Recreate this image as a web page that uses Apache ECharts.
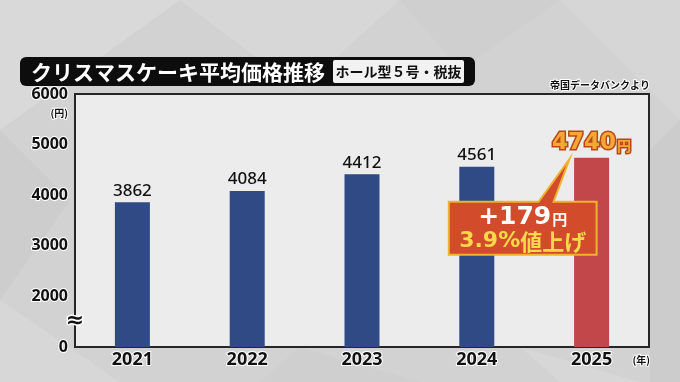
<!DOCTYPE html>
<html>
<head>
<meta charset="utf-8">
<script src="https://cdn.jsdelivr.net/npm/echarts@6/dist/echarts.min.js"></script>
<style>
html,body{margin:0;padding:0;background:#d2d2d2;}
#c{width:680px;height:382px;}
</style>
</head>
<body>
<div id="c"></div>
<script>
// ---- data ----
const years = ['2021', '2022', '2023', '2024', '2025'];
const prices = [3862, 4084, 4412, 4561, 4740];
const yMin = 1000;   // shown as "0" (broken axis)
const yMax = 6000;
const yStep = 1000;

const titleText = 'クリスマスケーキ平均価格推移';
const subTitleText = 'ホール型５号・税抜';
const sourceText = '帝国データバンクより';

const JP = '"Noto Sans CJK JP", "Noto Sans", sans-serif';
const NUM = '"DejaVu Sans", sans-serif';

const chart = echarts.init(document.getElementById('c'), null, {renderer: 'canvas'});

const last = prices.length - 1;
const diff = prices[last] - prices[last - 1];
const pct = (diff / prices[last - 1] * 100).toFixed(1);

const seriesData = prices.map((v, i) => {
  if (i === last) {
    return {
      value: v,
      itemStyle: {color: '#c1474a'},
      label: {
        show: true, position: 'top', distance: 3,
        formatter: '{n|' + v + '}{u|円}',
        rich: {
          n: {fontFamily: NUM, fontWeight: 'bold', fontSize: 23, color: '#f5a733',
              textBorderColor: '#b8471c', textBorderWidth: 3},
          u: {fontFamily: JP, fontWeight: 'bold', fontSize: 14, color: '#f5a733',
              textBorderColor: '#b8471c', textBorderWidth: 3, padding: [4, 0, 0, 1]}
        }
      }
    };
  }
  return {value: v};
});

// background low-poly decoration
const bgPolys = [
  {pts: [[0,0],[180,0],[0,130]], c: '#d9d9d9'},
  {pts: [[180,0],[400,0],[300,90]], c: '#d7d7d7'},
  {pts: [[400,0],[560,0],[460,70]], c: '#cfcfcf'},
  {pts: [[560,0],[680,0],[680,120]], c: '#d6d6d6'},
  {pts: [[0,130],[70,200],[0,300]], c: '#cdcdcd'},
  {pts: [[650,150],[680,120],[680,382],[650,382]], c: '#cccccc'},
  {pts: [[0,300],[120,382],[0,382]], c: '#d7d7d7'},
  {pts: [[300,347],[420,382],[260,382]], c: '#cfcfcf'},
  {pts: [[520,347],[640,382],[560,382]], c: '#d7d7d7'}
];

const option = {
  backgroundColor: '#d2d2d2',
  animation: false,
  textStyle: {fontFamily: JP},
  grid: {
    left: 75, right: 31, top: 94, bottom: 35,
    show: true, backgroundColor: '#ececec', borderColor: '#262626', borderWidth: 2, z: 1
  },
  xAxis: {
    type: 'category',
    data: years,
    axisLine: {show: false},
    axisTick: {show: false},
    axisLabel: {
      fontFamily: '"Noto Sans", sans-serif', fontWeight: 'bold', fontSize: 18, color: '#111',
      textBorderColor: '#fff', textBorderWidth: 2, margin: 4
    }
  },
  yAxis: {
    type: 'value',
    min: yMin, max: yMax, interval: yStep,
    axisLine: {show: false},
    axisTick: {show: false},
    splitLine: {lineStyle: {color: '#8a8a8a', type: [3, 2], width: 1}},
    axisLabel: {
      fontFamily: '"Noto Sans", sans-serif', fontWeight: 'bold', fontSize: 16, color: '#111',
      textBorderColor: '#fff', textBorderWidth: 2, margin: 7,
      formatter: v => (v === yMin ? '0' : String(v))
    }
  },
  series: [{
    type: 'bar',
    data: seriesData,
    barWidth: 35,
    z: 3,
    itemStyle: {color: '#304a86'},
    label: {
      show: true, position: 'top', distance: 3,
      fontFamily: '"Noto Sans", sans-serif', fontWeight: 500, fontSize: 17, color: '#111'
    }
  }],
  graphic: []
};

chart.setOption(option);

// ---- annotations positioned from the axes ----
const tip = chart.convertToPixel({seriesIndex: 0}, [last, prices[last]]);
const prevPt = chart.convertToPixel({seriesIndex: 0}, [last - 1, prices[last - 1]]);
const zeroY = chart.convertToPixel({yAxisIndex: 0}, yMin);
const breakY = chart.convertToPixel({yAxisIndex: 0}, 1500);
const topY = chart.convertToPixel({yAxisIndex: 0}, yMax);
const gridLeft = 75, gridRight = 680 - 31;

const tipX = tip[0] - 22, tipY = tip[1] + 1;
const bx1 = prevPt[0] - 28, bx2 = tip[0] + 5;
const by1 = tipY + 43, by2 = by1 + 53;

const g = [];
bgPolys.forEach(p => g.push({type: 'polygon', z: -10, silent: true,
  shape: {points: p.pts}, style: {fill: p.c}}));

// title block
g.push({type: 'rect', z: 10, shape: {x: 20, y: 57, width: 455, height: 29, r: 6}, style: {fill: '#0d0d0d'}});
g.push({type: 'rect', z: 11, shape: {x: 333, y: 60, width: 131, height: 23, r: 2}, style: {fill: '#f2f2f2'}});
g.push({type: 'text', z: 12, style: {text: titleText, x: 31, y: 72, verticalAlign: 'middle',
  font: 'bold 21px "Noto Sans CJK JP"', fill: '#ffffff'}});
g.push({type: 'text', z: 12, style: {text: subTitleText, x: 398.5, y: 72, align: 'center', verticalAlign: 'middle',
  font: 'bold 14px "Noto Sans CJK JP"', fill: '#111'}});
g.push({type: 'text', z: 12, style: {text: sourceText, x: gridRight + 1, y: 85, align: 'right', verticalAlign: 'middle',
  font: 'bold 10px "Noto Sans CJK JP"', fill: '#111', stroke: '#fff', lineWidth: 2}});

// units
g.push({type: 'text', z: 12, style: {text: '(円)', x: 68, y: topY + 19, align: 'right', verticalAlign: 'middle',
  font: 'bold 10px "Noto Sans CJK JP"', fill: '#111', stroke: '#fff', lineWidth: 2}});
g.push({type: 'text', z: 12, style: {text: '(年)', x: gridRight + 1, y: zeroY + 13, align: 'right', verticalAlign: 'middle',
  font: 'bold 10px "Noto Sans CJK JP"', fill: '#111', stroke: '#fff', lineWidth: 2}});

// axis break mark
g.push({type: 'text', z: 12, style: {text: '≈', x: gridLeft, y: breakY, align: 'center', verticalAlign: 'middle',
  font: 'bold 22px "DejaVu Sans"', fill: '#111', stroke: '#fff', lineWidth: 3}});

// callout
g.push({type: 'polygon', z: 20, shape: {points: [
  [bx1, by1], [tipX - 31, by1], [tipX, tipY], [tipX - 16, by1], [bx2, by1], [bx2, by2], [bx1, by2]
]}, style: {fill: '#d24b2b', stroke: '#f0b32f', lineWidth: 2, lineJoin: 'miter'}});
g.push({type: 'text', z: 21, style: {
  text: '{a|+' + diff + '}{b|円}\n{c|' + pct + '%}{d|値上げ}',
  x: (bx1 + bx2) / 2, y: (by1 + by2) / 2 + 1, align: 'center', verticalAlign: 'middle',
  rich: {
    a: {fontFamily: NUM, fontWeight: 'bold', fontSize: 25, fill: '#ffffff', lineHeight: 25},
    b: {fontFamily: JP, fontWeight: 'bold', fontSize: 15, fill: '#ffffff', lineHeight: 25, padding: [5, 0, 0, 1]},
    c: {fontFamily: NUM, fontWeight: 'bold', fontSize: 22, fill: '#f9d94b', lineHeight: 24},
    d: {fontFamily: JP, fontWeight: 'bold', fontSize: 22, fill: '#f9d94b', lineHeight: 24}
  }
}});

chart.setOption({graphic: g});
</script>
</body>
</html>
